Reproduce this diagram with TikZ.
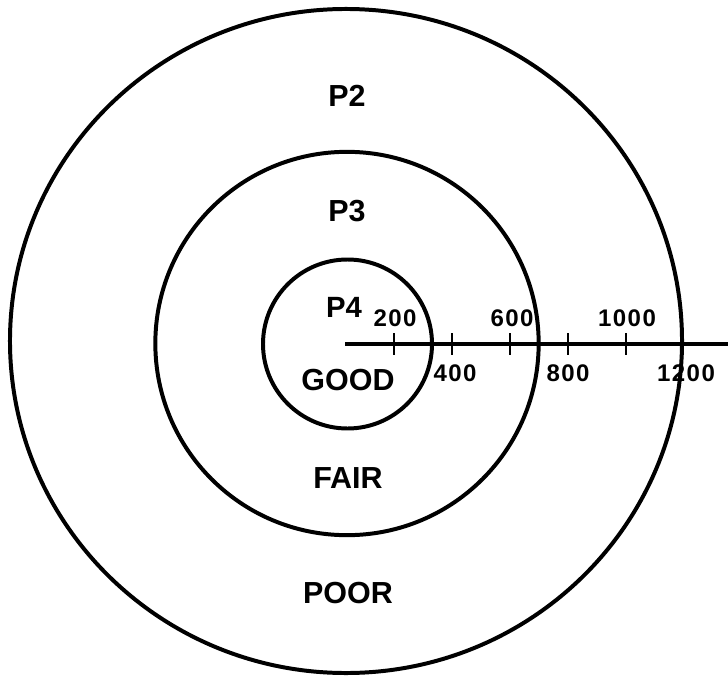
\documentclass[tikz,border=0pt]{standalone}
\usepackage{fontspec}
\setmainfont{Liberation Sans}
\newfontfamily\numfont[LetterSpace=6]{Liberation Sans}
\begin{document}
\begin{tikzpicture}[x=0.03cm,y=-0.03cm,
  ring/.style={draw,circle,line width=3.4pt,inner sep=0pt},
  axisline/.style={line width=3.4pt},
  tickmark/.style={line width=2.4pt},
  zonelabel/.style={inner sep=0pt,font=\bfseries\fontsize{26}{26}\selectfont},
  plabel/.style={inner sep=0pt,font=\bfseries\fontsize{25}{25}\selectfont},
  numlabel/.style={inner sep=0pt,font=\numfont\bfseries\fontsize{20.5}{20.5}\selectfont}]
\useasboundingbox (0,0) rectangle (728,678);
% circles
\draw[line width=3.4pt] (346,341) ellipse [x radius=10.08cm, y radius=9.96cm];
\node[ring,minimum size=11.5cm] (middle) at (347,343.5) {};
\node[ring,minimum size=5.07cm] (inner) at (347.5,344) {};
% axis
\coordinate (ax0) at (345,344);
\coordinate (ax1) at (728,344);
\draw[axisline] (ax0) -- (ax1);
\foreach \n/\x in {t200/394,t400/452,t600/510,t800/568,t1000/626,t1200/683}{
  \coordinate (\n a) at (\x,333);
  \coordinate (\n b) at (\x,355);
  \draw[tickmark] (\n a) -- (\n b);
}
% scale numbers
\node[numlabel] (n200) at (395,318) {200};
\node[numlabel] (n600) at (512,318) {600};
\node[numlabel] (n1000) at (627,318) {1000};
\node[numlabel] (n400) at (455,373) {400};
\node[numlabel] (n800) at (568,373) {800};
\node[numlabel] (n1200) at (686,373) {1200};
% zone labels
\node[zonelabel] (p2) at (347,96) {P2};
\node[zonelabel] (p3) at (347,211) {P3};
\node[plabel] (p4) at (344,307) {P4};
\node[zonelabel] (good) at (348,380) {GOOD};
\node[zonelabel] (fair) at (348,478) {FAIR};
\node[zonelabel] (poor) at (348,593) {POOR};
\end{tikzpicture}
\end{document}
